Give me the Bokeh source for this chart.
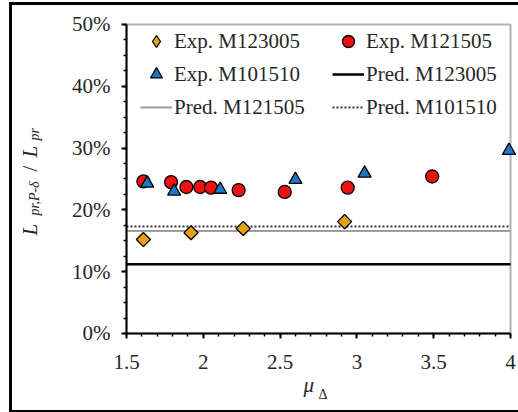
import math
from bokeh.plotting import figure
from bokeh.models import (Range1d, SingleIntervalTicker, PrintfTickFormatter, LinearAxis,
                          CustomJSTickFormatter, Legend, LegendItem, Label, BoxAnnotation)
from bokeh.embed import file_html
from bokeh.resources import INLINE

# ---- data (percent) ----
exp_M123005_x = [1.61, 1.92, 2.26, 2.92]
exp_M123005_y = [15.2, 16.3, 17.0, 18.1]
exp_M121505_x = [1.61, 1.79, 1.89, 1.98, 2.05, 2.23, 2.53, 2.94, 3.49]
exp_M121505_y = [24.6, 24.5, 23.7, 23.7, 23.6, 23.2, 22.9, 23.6, 25.4]
exp_M101510_x = [1.635, 1.81, 2.11, 2.60, 3.05, 3.99]
exp_M101510_y = [24.3, 23.0, 23.3, 24.9, 25.9, 29.6]
pred_x = [1.5, 4.0]
pred_M123005 = [11.2, 11.2]
pred_M121505 = [16.6, 16.6]
pred_M101510 = [17.3, 17.3]
x_bounds = (1.5, 4.0)
y_bounds = (0, 50)
legend_labels = ["Exp. M123005", "Exp. M121505", "Exp. M101510",
                 "Pred. M123005", "Pred. M121505", "Pred. M101510"]

FONT = "Liberation Serif"
TXT = "#262626"

# the frame fills the whole canvas; the axes sit at fixed data locations inside it
p = figure(width=506, height=405, output_backend="svg", toolbar_location=None,
           x_range=Range1d(0.7578, 4.0521), y_range=Range1d(-12.46, 53.07),
           x_axis_location=None, y_axis_location=None, min_border=0,
           margin=(5, 0, 0, 12), styles={"outline": "3px solid black"})
p.grid.visible = False
p.outline_line_color = None
p.background_fill_color = "white"
p.border_fill_color = "white"

xaxis = LinearAxis(fixed_location=y_bounds[0], bounds=x_bounds,
                   ticker=SingleIntervalTicker(interval=0.5, num_minor_ticks=5),
                   formatter=CustomJSTickFormatter(code="return tick.toString()"))
yaxis = LinearAxis(fixed_location=x_bounds[0], bounds=y_bounds,
                   ticker=SingleIntervalTicker(interval=10, num_minor_ticks=4),
                   formatter=PrintfTickFormatter(format="%d%%"))
for ax in (xaxis, yaxis):
    ax.axis_line_width = 2
    ax.axis_line_color = "black"
    ax.major_tick_in = 0
    ax.major_tick_out = 5
    ax.minor_tick_in = 0
    ax.minor_tick_out = 3
    ax.major_tick_line_width = 2
    ax.minor_tick_line_width = 1.5
    ax.major_label_text_font = FONT
    ax.major_label_text_font_size = "21px"
    ax.major_label_text_color = TXT
yaxis.major_label_standoff = 11
xaxis.major_label_standoff = 17
p.add_layout(xaxis, "below")
p.add_layout(yaxis, "left")

# plot box (top / right edges)
p.add_layout(BoxAnnotation(left=x_bounds[0], right=x_bounds[1], bottom=y_bounds[0],
                           top=y_bounds[1], fill_alpha=0, line_color="black",
                           line_width=2, level="underlay"))

# predicted lines
l1 = p.line(pred_x, pred_M123005, line_color="black", line_width=2.5)
l2 = p.line(pred_x, pred_M121505, line_color="#9d9d9d", line_width=2)
l3 = p.line(pred_x, pred_M101510, line_color="#333333", line_width=2, line_dash="2 2")

# experimental points
r1_key = p.scatter(exp_M123005_x[:1], exp_M123005_y[:1], marker="diamond", size=13,
                   fill_color="#E5A114", line_color="black", line_width=1.3)
r1 = p.scatter(exp_M123005_x, exp_M123005_y, marker="square", size=10, angle=math.pi / 4,
               fill_color="#E5A114", line_color="black", line_width=1.3)
r2 = p.scatter(exp_M121505_x, exp_M121505_y, marker="circle", size=13,
               fill_color="#EE1111", line_color="black", line_width=1.3)
r3 = p.scatter(exp_M101510_x, exp_M101510_y, marker="triangle", size=13,
               fill_color="#1F78C4", line_color="black", line_width=1.3)

# legend is filled column by column -> order items for the row-wise look
items = [LegendItem(label=legend_labels[0], renderers=[r1_key]),
         LegendItem(label=legend_labels[2], renderers=[r3]),
         LegendItem(label=legend_labels[4], renderers=[l2]),
         LegendItem(label=legend_labels[1], renderers=[r2]),
         LegendItem(label=legend_labels[3], renderers=[l1]),
         LegendItem(label=legend_labels[5], renderers=[l3])]
leg = Legend(items=items, ncols=2, location=(128, 288), padding=0, margin=0,
             glyph_width=32, glyph_height=30, label_height=30, label_width=155,
             label_standoff=2, spacing=3, border_line_alpha=0,
             background_fill_alpha=0, label_text_font=FONT,
             label_text_font_size="21px", label_text_color=TXT)
p.add_layout(leg, "center")

# y axis title pieces (rotated)
rot = math.pi / 2
ylab = [("L", 0.8686, 15.86, "21px", "italic"),
        ("pr,P-δ", 0.9012, 19.09, "14px", "italic"),
        ("/", 0.8686, 26.2, "21px", "normal"),
        ("L", 0.8686, 28.48, "21px", "italic"),
        ("pr", 0.9012, 31.23, "14px", "italic")]
for t, xx, yy, fs, st in ylab:
    p.add_layout(Label(x=xx, y=yy, text=t, angle=rot, text_font=FONT,
                       text_font_size=fs, text_font_style=st, text_color=TXT,
                       text_align="left", text_baseline="alphabetic"))

# x axis title
p.add_layout(Label(x=2.652, y=-8.41, text="μ", text_font=FONT, text_font_size="21px",
                   text_font_style="italic", text_color=TXT,
                   text_align="left", text_baseline="alphabetic"))
p.add_layout(Label(x=2.75, y=-9.87, text="Δ", text_font=FONT, text_font_size="14px",
                   text_color=TXT, text_align="left", text_baseline="alphabetic"))

open("out.html", "w").write(file_html(p, INLINE))
